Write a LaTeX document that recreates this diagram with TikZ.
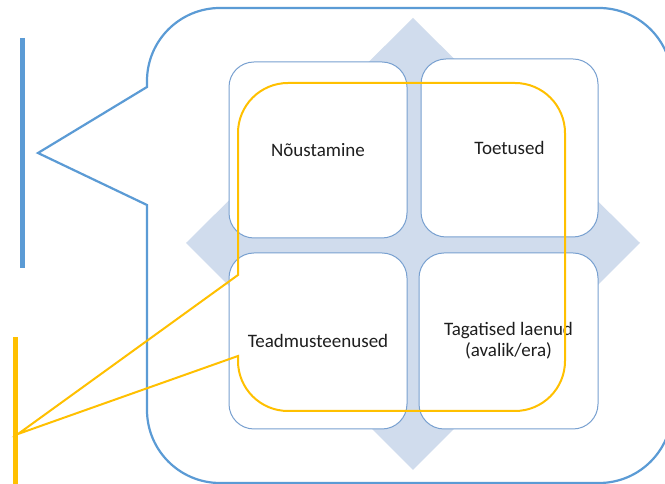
\documentclass[tikz,border=0pt]{standalone}
\usepackage{fontspec}
\setmainfont{Carlito}
\definecolor{oblue}{HTML}{5B9BD5}
\definecolor{oyellow}{HTML}{FFC000}
\definecolor{diamondfill}{RGB}{208,220,237}
\definecolor{cellline}{RGB}{120,160,208}
\definecolor{txt}{RGB}{30,30,30}
\begin{document}
\begin{tikzpicture}[x=1pt,y=1pt,
  cell/.style={draw=cellline,line width=1pt,fill=white,rounded corners=25pt,
    minimum width=178pt,minimum height=176pt,align=center,text=txt,
    font=\fontsize{19}{21}\selectfont},
  bluecall/.style={draw=oblue,line width=2.2pt,line join=miter},
  yellowcall/.style={draw=oyellow,line width=2pt,line join=miter},
  bar/.style={line width=5pt}]
\clip (0,0) rectangle (665,484);
\fill[white] (0,0) rectangle (665,484);
% blue callout
\draw[bluecall] (147,397) -- (147,403) arc[start angle=180,end angle=90,radius=73]
  -- (599,476) arc[start angle=90,end angle=0,radius=73]
  -- (672,74) arc[start angle=0,end angle=-90,radius=73]
  -- (220,1) arc[start angle=270,end angle=180,radius=73]
  -- (147,279) -- (38,331) -- cycle;
% blue bar
\draw[bar,oblue] (22,446) -- (22,216);
% diamond
\fill[diamondfill] (413,466) -- (640,241) -- (413,14) -- (186,241) -- cycle;
% cells
\node[cell] (tl) at (318,334) {Nõustamine};
\node[cell,minimum width=177pt,minimum height=178pt] (tr) at (509.5,336) {Toetused};
\node[cell] (bl) at (318,143) {Teadmusteenused};
\node[cell,minimum width=179pt] (br) at (508.5,143) {Tagatised laenud\\(avalik/era)};
% yellow callout
\draw[yellowcall] (238,209) -- (238,351) arc[start angle=180,end angle=90,radius=50]
  -- (515,401) arc[start angle=90,end angle=0,radius=50]
  -- (565,123) arc[start angle=0,end angle=-90,radius=50]
  -- (288,73) arc[start angle=270,end angle=180,radius=50]
  -- (238,128) -- (18,50) -- cycle;
% yellow bar
\draw[bar,oyellow] (15,147) -- (15,-2);
\end{tikzpicture}
\end{document}
